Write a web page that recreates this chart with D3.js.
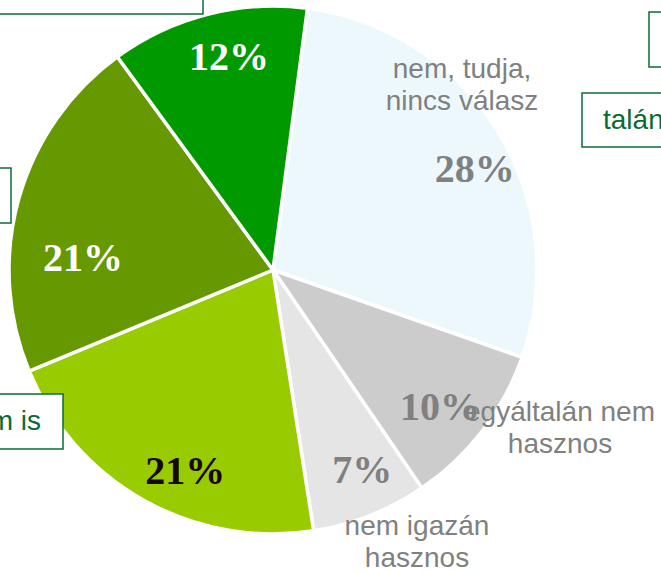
<!DOCTYPE html>
<html>
<head>
<meta charset="utf-8">
<script src="https://cdn.jsdelivr.net/npm/d3@7"></script>
<style>
  html, body { margin: 0; padding: 0; background: #fff; }
  svg { display: block; }
</style>
</head>
<body>
<svg id="chart" width="661" height="573"></svg>
<script>
// ---- data ----
const categories = [
  "nem, tudja, nincs válasz",
  "egyáltalán nem hasznos",
  "nem igazán hasznos",
  "hasznos is, meg nem is",
  "inkább hasznos",
  "nagyon hasznos"
];
const values = [28, 10, 7, 21, 21, 12];
const sliceColors = ["#EDF8FD", "#CCCCCC", "#E5E5E5", "#99CC00", "#669900", "#009900"];
const pctColors = ["#808080", "#808080", "#808080", "#1A0505", "#FFFFFF", "#FFFFFF"];
// category labels shown next to the grey slices (index -> lines)
const catLabelLines = {
  0: ["nem, tudja,", "nincs válasz"],
  1: ["egyáltalán nem", "hasznos"],
  2: ["nem igazán", "hasznos"]
};
const legendText = ["", "", "talán", "", "hasznos is, meg nem is"];

// ---- layout ----
const W = 661, H = 573;
const cx = 273, cy = 270, R = 264;
const startDeg = 7.5;
const labelR = 218;
const pctShift = [[16, 12], [-6, 3], [9, -4], [19, 10], [20, 46], [10, -3]];
const catPos = { 0: [189, -192], 1: [287, 151], 2: [144, 265] }; // relative to pie centre (first baseline)
const catLine = 32;

const svg = d3.select("#chart");
const g = svg.append("g").attr("transform", `translate(${cx},${cy})`);

const a0 = startDeg * Math.PI / 180;
const pie = d3.pie().sort(null).value(d => d).startAngle(a0).endAngle(a0 + 2 * Math.PI);
const arcs = pie(values);
const arc = d3.arc().innerRadius(0).outerRadius(R);
const labelArc = d3.arc().innerRadius(labelR).outerRadius(labelR);

g.selectAll("path.slice")
  .data(arcs)
  .enter().append("path")
  .attr("class", "slice")
  .attr("d", arc)
  .attr("fill", (d, i) => sliceColors[i])
  .attr("stroke", "#fff")
  .attr("stroke-width", 3.5)
  .attr("stroke-linejoin", "round");

// percentage labels
g.selectAll("text.pct")
  .data(arcs)
  .enter().append("text")
  .attr("class", "pct")
  .attr("transform", (d, i) => {
    const c = labelArc.centroid(d);
    return `translate(${c[0] + pctShift[i][0]},${c[1] + pctShift[i][1]})`;
  })
  .attr("text-anchor", "middle")
  .attr("dy", "0.35em")
  .attr("font-family", "'Liberation Serif', 'Times New Roman', serif")
  .attr("font-weight", "bold")
  .attr("font-size", 40)
  .attr("fill", (d, i) => pctColors[i])
  .text(d => d.data + "%");

// category labels
Object.keys(catLabelLines).forEach(k => {
  const lines = catLabelLines[k];
  const p = catPos[k];
  const t = g.append("text")
    .attr("text-anchor", "middle")
    .attr("font-family", "'Liberation Sans', Arial, sans-serif")
    .attr("font-size", 28)
    .attr("fill", "#808080");
  lines.forEach((ln, j) => {
    t.append("tspan").attr("x", p[0]).attr("y", p[1] + j * catLine).text(ln);
  });
});

// legend boxes (partly cut off by the frame)
const boxes = [
  { x: -20, y: -40, w: 223, h: 54 },
  { x: 649, y: 12, w: 60, h: 55 },
  { x: 582, y: 93, w: 100, h: 54 },
  { x: -40, y: 168, w: 51, h: 55 },
  { x: -280, y: 394, w: 343, h: 55 }
];
const lg = svg.append("g");
boxes.forEach((b, i) => {
  lg.append("rect")
    .attr("x", b.x).attr("y", b.y).attr("width", b.w).attr("height", b.h)
    .attr("fill", "#fff")
    .attr("stroke", "#0B6B34")
    .attr("stroke-width", 1.5);
  if (legendText[i]) {
    const isEnd = b.x < 0;
    lg.append("text")
      .attr("x", isEnd ? b.x + b.w - 22 : b.x + 21)
      .attr("y", b.y + 36)
      .attr("text-anchor", isEnd ? "end" : "start")
      .attr("font-family", "'Liberation Sans', Arial, sans-serif")
      .attr("font-size", 28)
      .attr("fill", "#0B6B34")
      .text(legendText[i]);
  }
});
</script>
</body>
</html>
